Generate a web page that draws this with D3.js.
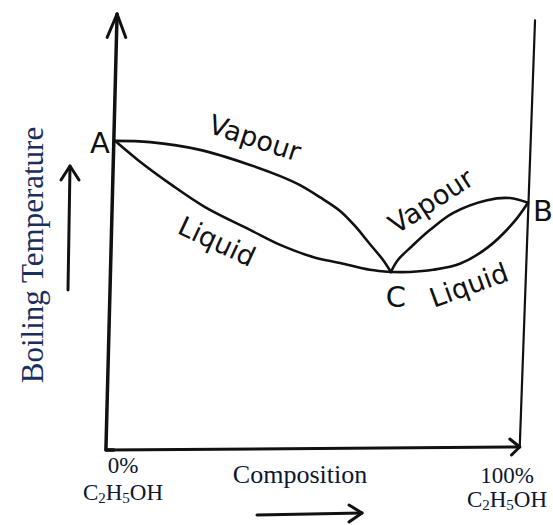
<!DOCTYPE html>
<html>
<head>
<meta charset="utf-8">
<script src="https://cdn.jsdelivr.net/npm/d3@7"></script>
<style>
  html, body { margin: 0; padding: 0; background: #fff; }
  svg { display: block; }
</style>
</head>
<body>
<svg id="chart" width="553" height="525"></svg>
<script>
// ---- data (composition % C2H5OH, boiling temperature in arbitrary units) ----
const vapourLeftX  = [0, 8.5, 20.6, 32.7, 40.0, 44.8, 49.6, 54.5, 58.1, 61.7, 64.9, 66.8];
const vapourLeftT  = [71.9, 71.6, 69.8, 66.3, 63.7, 61.6, 58.8, 55.6, 52.1, 47.9, 44.2, 41.4];
const liquidLeftX  = [0, 5.6, 13.8, 21.8, 32.7, 40.0, 47.9, 54.5, 61.7, 66.8];
const liquidLeftT  = [71.9, 67.4, 61.6, 56.5, 51.2, 47.7, 44.9, 43.5, 41.9, 41.4];
const vapourRightX = [66.8, 68.5, 71.9, 76.3, 81.8, 90.1, 95.6, 100];
const vapourRightT = [41.4, 44.2, 47.4, 51.2, 55.1, 58.1, 58.6, 57.5];
const liquidRightX = [66.8, 71.4, 77.0, 83.5, 90.1, 96.4, 100];
const liquidRightT = [41.4, 41.4, 41.9, 43.3, 47.0, 52.8, 57.5];
const pointNames   = ["A", "B", "C"];
const pointX       = [0, 100, 66.8];
const pointT       = [71.9, 57.5, 41.4];
const xTickLabels  = ["0%", "100%"];
const xTickValues  = [0, 100];
const yTitle = "Boiling Temperature";
const xTitle = "Composition";

// ---- scales ----
const x = d3.scaleLinear().domain([0, 100]).range([115, 528]);
const y = d3.scaleLinear().domain([0, 100]).range([450, 20]);

const svg = d3.select("#chart");
const ink = "#111";
const hand = "'DejaVu Sans', 'Liberation Sans', sans-serif";
const serif = "'Liberation Serif', 'DejaVu Serif', serif";

const zip = (xs, ts) => xs.map((v, i) => [v, ts[i]]);
const line = d3.line().x(d => x(d[0])).y(d => y(d[1])).curve(d3.curveCatmullRom.alpha(0.5));

// ---- frame (hand-drawn axes) ----
const frame = svg.append("g").attr("fill", "none").attr("stroke", ink)
  .attr("stroke-linecap", "round").attr("stroke-linejoin", "round");
frame.append("path").attr("stroke-width", 3.5)
  .attr("d", `M${x(0.5)},${y(101.4)} L${x(-2.2)},${y(0)} L${x(-0.3)},${y(0)}`);
frame.append("path").attr("stroke-width", 3)
  .attr("d", `M${x(-2.2)},${y(0)} L${x(98)},${y(0.7)}`);
frame.append("path").attr("stroke-width", 3)
  .attr("d", `M${x(-1.9)},${y(99.2) + 14} L${x(0.5)},${y(101.4)} L${x(2.6)},${y(99.2) + 14}`);
frame.append("path").attr("stroke-width", 3)
  .attr("d", `M${x(95.6)},${y(0.7) - 8} L${x(98)},${y(0.7)} L${x(96.0)},${y(0.7) + 8}`);
frame.append("path").attr("stroke-width", 2.2)
  .attr("d", `M${x(98)},${y(0.7)} L${x(101.7)},${y(99.9)}`);

// ---- curves ----
const curves = svg.append("g").attr("fill", "none").attr("stroke", ink)
  .attr("stroke-width", 2.6).attr("stroke-linecap", "round");
[zip(vapourLeftX, vapourLeftT), zip(liquidLeftX, liquidLeftT),
 zip(vapourRightX, vapourRightT), zip(liquidRightX, liquidRightT)]
  .forEach(pts => curves.append("path").attr("d", line(pts)));

// ---- curve labels ----
const curveLabels = [
  { text: "Vapour", cx: 252, cy: 147, rot: 18 },
  { text: "Liquid", cx: 213, cy: 250, rot: 25 },
  { text: "Vapour", cx: 436, cy: 209, rot: -33 },
  { text: "Liquid", cx: 472, cy: 294, rot: -20 }
];
svg.append("g").selectAll("text").data(curveLabels).join("text")
  .attr("transform", d => `translate(${d.cx},${d.cy}) rotate(${d.rot})`)
  .attr("text-anchor", "middle")
  .attr("font-family", hand).attr("font-size", 27).attr("fill", ink)
  .text(d => d.text);

// ---- point labels ----
const ptOffsets = [[-15, 12], [15, 18], [5, 35]];
svg.append("g").selectAll("text").data(pointNames).join("text")
  .attr("x", (d, i) => x(pointX[i]) + ptOffsets[i][0])
  .attr("y", (d, i) => y(pointT[i]) + ptOffsets[i][1])
  .attr("text-anchor", "middle")
  .attr("font-family", hand).attr("font-size", 29).attr("fill", ink)
  .text(d => d);

// ---- axis titles / tick labels ----
const txtColor = "#0d1630";
svg.append("text")
  .attr("transform", `translate(43,255) rotate(-90)`)
  .attr("text-anchor", "middle")
  .attr("font-family", serif).attr("font-size", 31).attr("fill", "#1b2f5c")
  .text(yTitle);

const arr = svg.append("g").attr("fill", "none").attr("stroke", ink)
  .attr("stroke-width", 3).attr("stroke-linecap", "round").attr("stroke-linejoin", "round");
arr.append("path").attr("d", "M68,290 L70,166");
arr.append("path").attr("d", "M61,180 L70,166 L79,180");
arr.append("path").attr("d", "M257,515 L362,513");
arr.append("path").attr("d", "M349,505 L362,513 L349,522");

svg.append("text").attr("x", 300).attr("y", 483).attr("text-anchor", "middle")
  .attr("font-family", serif).attr("font-size", 26).attr("fill", txtColor).text(xTitle);

const tickCx = [123, 507];
const tickBase = [473, 483];
const formBase = [500, 507];
xTickValues.forEach((v, i) => {
  svg.append("text").attr("x", tickCx[i]).attr("y", tickBase[i]).attr("text-anchor", "middle")
    .attr("font-family", serif).attr("font-size", 23).attr("fill", txtColor).text(xTickLabels[i]);
  const f = svg.append("text").attr("x", tickCx[i]).attr("y", formBase[i]).attr("text-anchor", "middle")
    .attr("font-family", serif).attr("font-size", 23).attr("fill", txtColor);
  f.append("tspan").text("C");
  f.append("tspan").attr("font-size", 15).attr("dy", 3).text("2");
  f.append("tspan").attr("dy", -3).text("H");
  f.append("tspan").attr("font-size", 15).attr("dy", 3).text("5");
  f.append("tspan").attr("dy", -3).text("OH");
});
</script>
</body>
</html>
